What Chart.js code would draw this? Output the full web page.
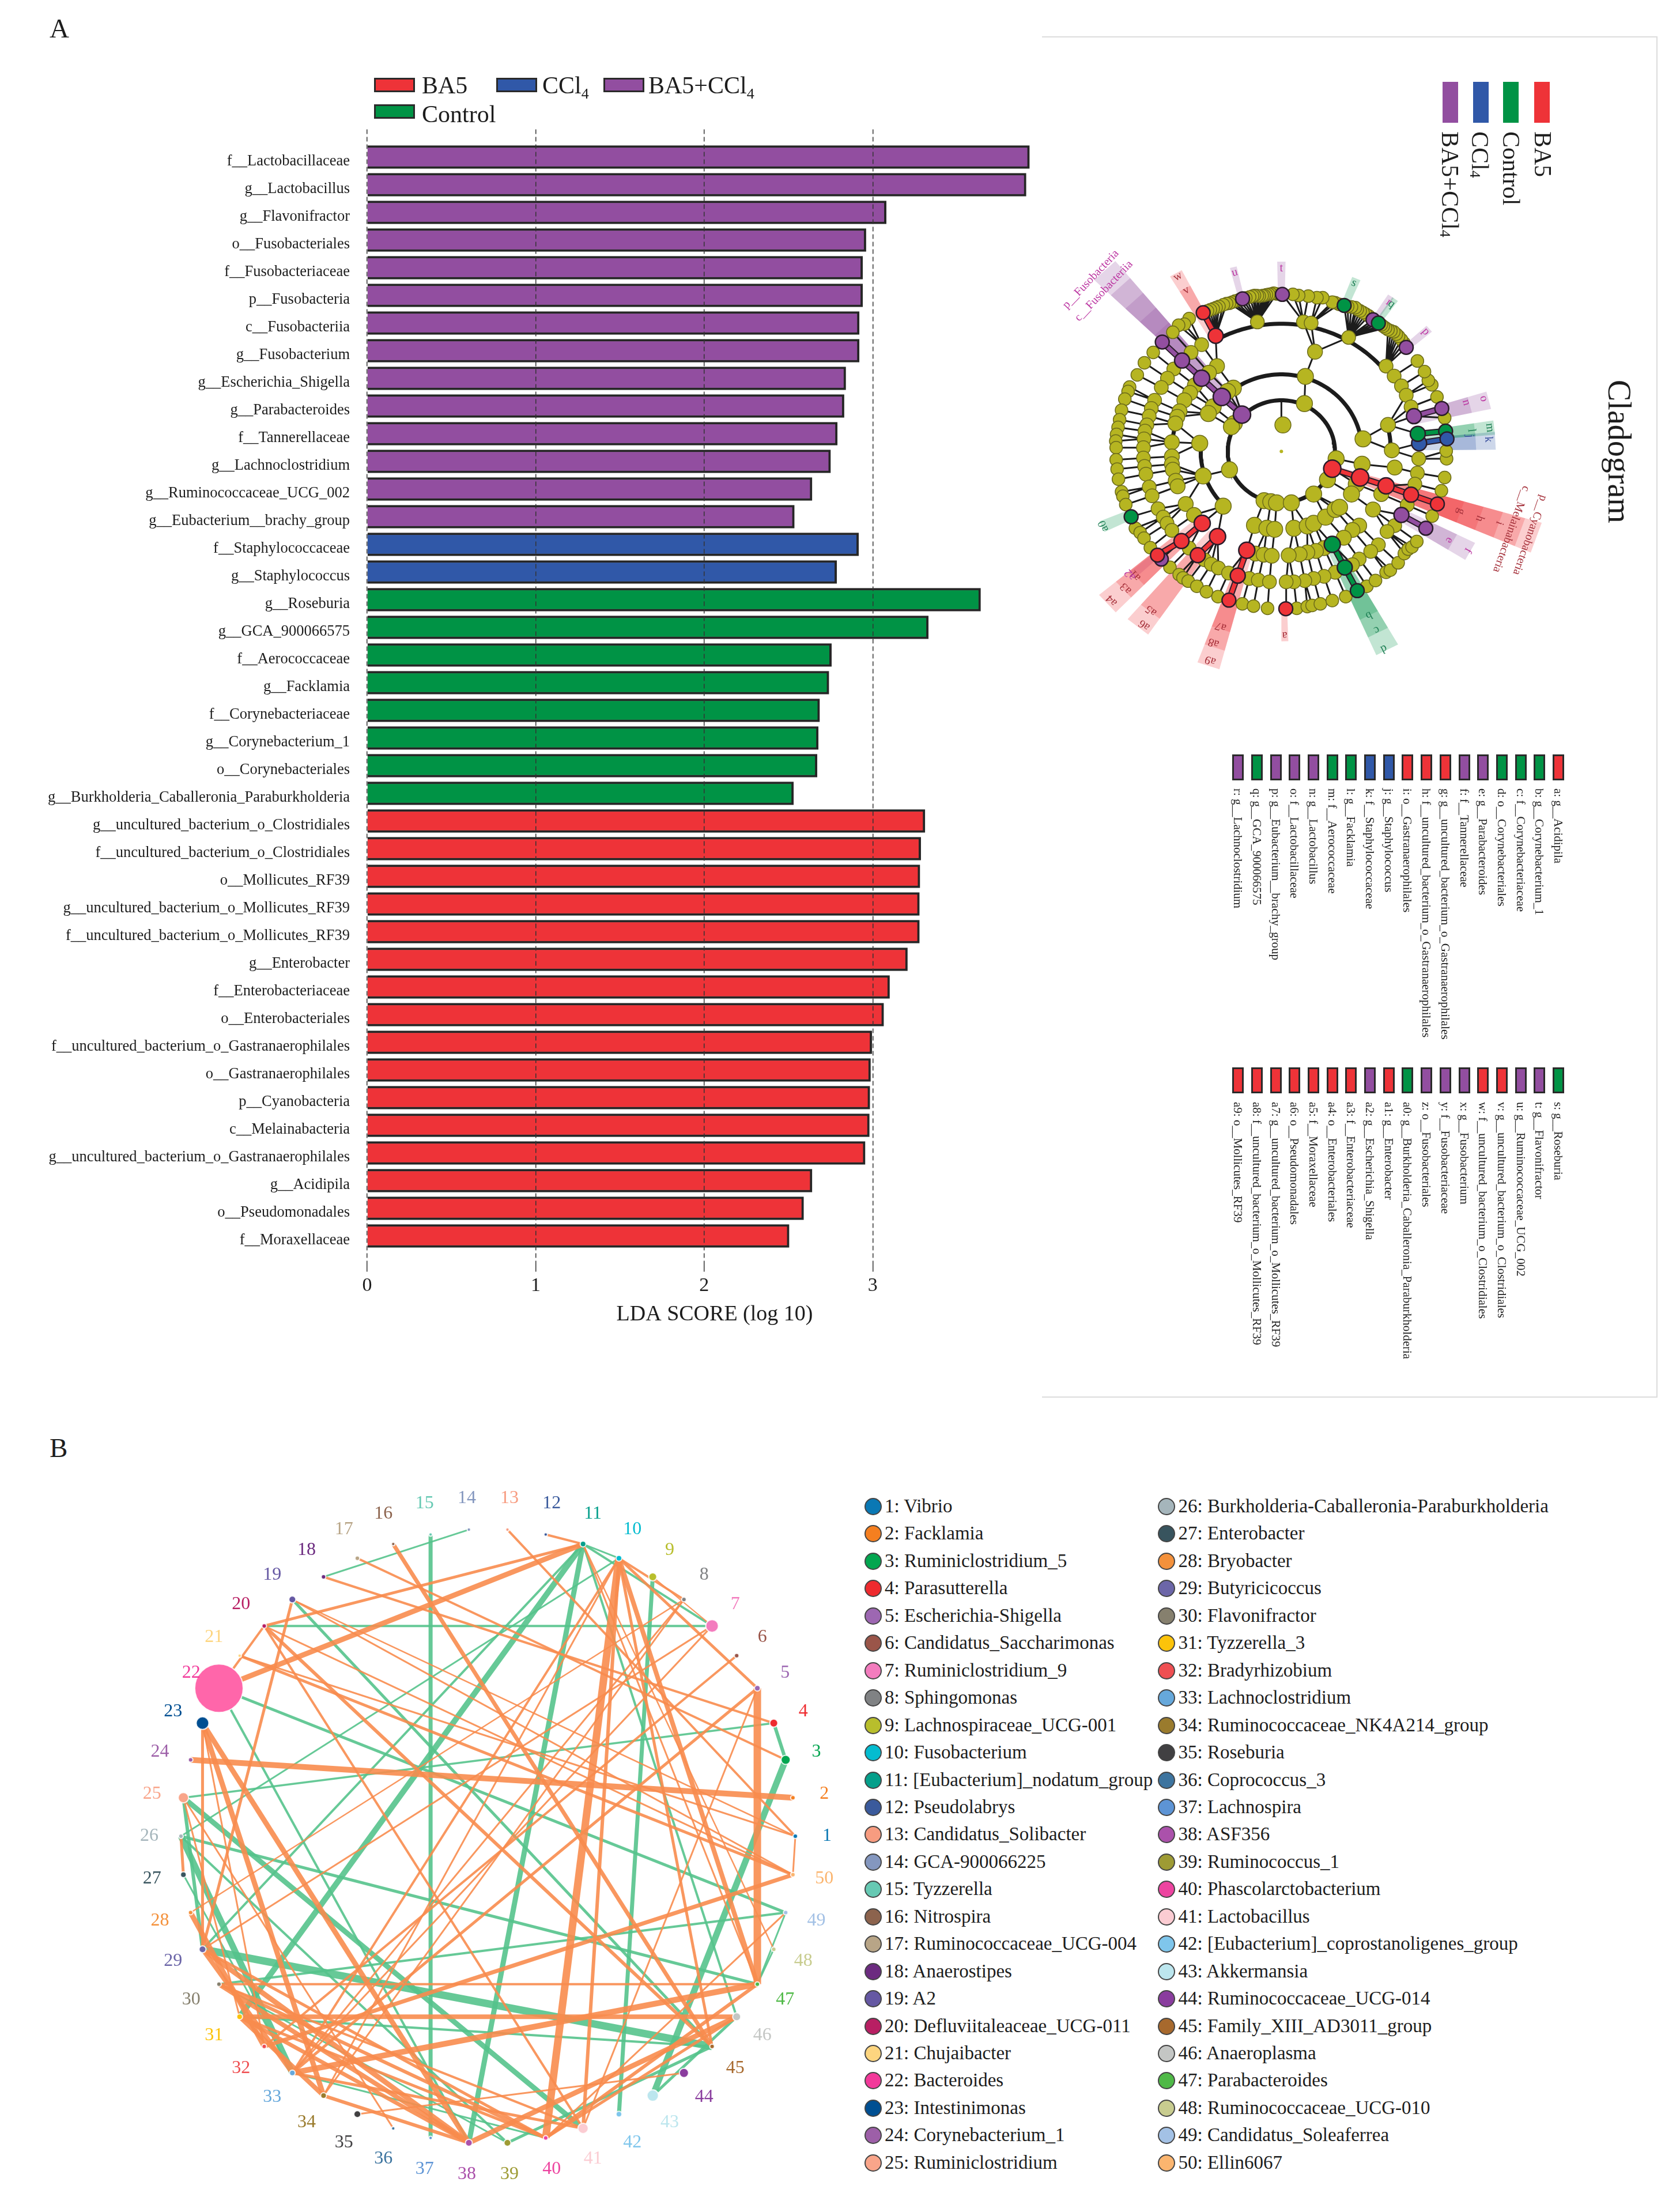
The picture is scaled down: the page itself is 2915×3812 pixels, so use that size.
<!DOCTYPE html>
<html>
<head>
<meta charset="utf-8">
<script src="https://cdn.jsdelivr.net/npm/chart.js@4"></script>
<style>
html, body { margin: 0; padding: 0; background: #fff; }
#page { position: relative; width: 2915px; height: 3812px; overflow: hidden; font-family: "Liberation Serif", serif; color: #1d1d1d; }
#page canvas { position: absolute; }
.txt { position: absolute; white-space: nowrap; line-height: 1; }
.vert { position: absolute; white-space: nowrap; line-height: 1; writing-mode: vertical-rl; }
.box { position: absolute; box-sizing: border-box; border: 3px solid #2a2a2a; }
.dot { position: absolute; box-sizing: border-box; border-radius: 50%; border: 2px solid #444; }
sub { font-size: 62%; line-height: 0; }
</style>
</head>
<body>
<div id="page">
  <canvas id="barChart" width="1843" height="2310" style="left:0;top:0"></canvas>
  <canvas id="cladeChart" width="900" height="800" style="left:1830px;top:430px"></canvas>
  <canvas id="netChart" width="1240" height="1252" style="left:230px;top:2560px"></canvas>
</div>
<script>
// ---- panel A, LDA bars ----
var barLabels = ['f__Lactobacillaceae','g__Lactobacillus','g__Flavonifractor','o__Fusobacteriales','f__Fusobacteriaceae','p__Fusobacteria','c__Fusobacteriia','g__Fusobacterium','g__Escherichia_Shigella','g__Parabacteroides','f__Tannerellaceae','g__Lachnoclostridium','g__Ruminococcaceae_UCG_002','g__Eubacterium__brachy_group','f__Staphylococcaceae','g__Staphylococcus','g__Roseburia','g__GCA_900066575','f__Aerococcaceae','g__Facklamia','f__Corynebacteriaceae','g__Corynebacterium_1','o__Corynebacteriales','g__Burkholderia_Caballeronia_Paraburkholderia','g__uncultured_bacterium_o_Clostridiales','f__uncultured_bacterium_o_Clostridiales','o__Mollicutes_RF39','g__uncultured_bacterium_o_Mollicutes_RF39','f__uncultured_bacterium_o_Mollicutes_RF39','g__Enterobacter','f__Enterobacteriaceae','o__Enterobacteriales','f__uncultured_bacterium_o_Gastranaerophilales','o__Gastranaerophilales','p__Cyanobacteria','c__Melainabacteria','g__uncultured_bacterium_o_Gastranaerophilales','g__Acidipila','o__Pseudomonadales','f__Moraxellaceae'];
var barValues = [3.93,3.91,3.08,2.96,2.94,2.94,2.92,2.92,2.84,2.83,2.79,2.75,2.64,2.535,2.916,2.786,3.64,3.33,2.755,2.74,2.685,2.677,2.67,2.53,3.31,3.285,3.28,3.277,3.277,3.206,3.10,3.065,2.995,2.987,2.983,2.98,2.955,2.64,2.59,2.504];
var barGroups = ['p','p','p','p','p','p','p','p','p','p','p','p','p','p','b','b','g','g','g','g','g','g','g','g','r','r','r','r','r','r','r','r','r','r','r','r','r','r','r','r'];
var xTicksMax = 4.124;

// ---- panel A, cladogram key ----
var keyTopNames = ['a: g__Acidipila','b: g__Corynebacterium_1','c: f__Corynebacteriaceae','d: o__Corynebacteriales','e: g__Parabacteroides','f: f__Tannerellaceae','g: g__uncultured_bacterium_o_Gastranaerophilales','h: f__uncultured_bacterium_o_Gastranaerophilales','i: o__Gastranaerophilales','j: g__Staphylococcus','k: f__Staphylococcaceae','l: g__Facklamia','m: f__Aerococcaceae','n: g__Lactobacillus','o: f__Lactobacillaceae','p: g__Eubacterium__brachy_group','q: g__GCA_900066575','r: g__Lachnoclostridium'];
var keyTopGroups = ['r','g','g','g','p','p','r','r','r','b','b','g','g','p','p','p','g','p'];
var keyBottomNames = ['s: g__Roseburia','t: g__Flavonifractor','u: g__Ruminococcaceae_UCG_002','v: g__uncultured_bacterium_o_Clostridiales','w: f__uncultured_bacterium_o_Clostridiales','x: g__Fusobacterium','y: f__Fusobacteriaceae','z: o__Fusobacteriales','a0: g__Burkholderia_Caballeronia_Paraburkholderia','a1: g__Enterobacter','a2: g__Escherichia_Shigella','a3: f__Enterobacteriaceae','a4: o__Enterobacteriales','a5: f__Moraxellaceae','a6: o__Pseudomonadales','a7: g__uncultured_bacterium_o_Mollicutes_RF39','a8: f__uncultured_bacterium_o_Mollicutes_RF39','a9: o__Mollicutes_RF39'];
var keyBottomGroups = ['g','p','p','r','r','p','p','p','g','r','p','r','r','r','r','r','r','r'];

// ---- panel A, cladogram nodes by taxonomic level, third field = enriched group ----
var cladeLevel2 = [[705,625,'p'],[665,665],[650,680],[640,875],[820,1015],[855,1020],[885,1025],[962,1025],[1030,575],[1078,985],[1150,920],[1195,825],[1175,870,'r']];
var cladeLevel3 = [[660,505],[630,520],[600,545,'p'],[555,590],[530,620],[485,755],[503,903],[607,1040],[770,1127],[835,1140],[875,1145],[1035,452],[1335,735],[1300,940],[1330,850],[1275,985],[975,1140],[1045,1130],[1078,1118],[1140,1090],[1190,1055],[1213,1045],[1320,910,'r']];
var cladeLevel4 = [[575,405],[533,435],[495,460,'p'],[460,492],[435,527],[405,560],[380,610],[368,635],[358,665],[340,750],[340,815],[340,850],[345,875],[360,925],[370,950],[412,1030],[455,1080],[498,1118,'r'],[578,1178,'r'],[730,1240,'r'],[775,1255],[818,1260],[860,1265],[1085,340],[1465,672],[1485,787],[1500,865],[1430,985],[1387,1055],[1315,1128],[1280,1148],[1235,1183],[1132,1230],[1090,1243],[1045,1250],[1005,1258],[948,1263],[1455,948,'r'],[1175,1213,'g']];
var cladeLevel5 = [[495,308],[568,268,'r'],[785,205],[440,343],[393,380,'p'],[350,418],[317,460],[285,502],[250,560],[233,597],[222,632],[210,672],[200,700],[195,735],[192,775],[192,822],[198,860],[205,895],[222,953],[237,993],[268,1052],[295,1090],[315,1118],[340,1150],[390,1198,'r'],[430,1230],[475,1262,'r'],[510,1283],[545,1303],[582,1320],[635,1343],[683,1355,'r'],[743,1368],[790,1375],[848,1383],[1025,205],[1065,210],[1260,275],[1455,405],[1497,450],[1535,495],[1560,537],[1585,590],[1600,632,'p'],[1620,712,'g'],[1627,755,'b'],[1625,825],[1618,890],[1605,940],[1585,988,'r'],[1565,1035],[1535,1080,'p'],[1500,1128],[1460,1155],[1415,1215],[1375,1245],[1315,1280],[1280,1305],[1240,1318,'g'],[1190,1340],[1132,1358],[1078,1368],[1032,1378],[975,1383],[935,1383]];
var cladeLevel6 = [[885,78],[870,75],[857,78],[845,80],[832,82],[820,85],[810,86],[795,88],[785,86],[770,85],[760,88],[745,92],[725,96],[708,100,'p'],[690,105],[670,110],[655,115],[640,120],[625,122],[608,127],[585,135],[570,140],[555,145],[540,150],[525,155],[503,163,'r'],[430,190],[405,215],[375,220],[345,252],[290,296,'p'],[243,343],[197,390],[160,445],[120,500],[112,520],[95,555],[78,605],[68,648],[60,683],[52,715],[48,745],[50,775],[50,830],[55,872],[62,918],[78,975],[85,995],[100,1033],[128,1088,'g'],[150,1140],[175,1160],[195,1185],[228,1228],[265,1262,'r'],[285,1280,'p'],[330,1317],[378,1350],[398,1365],[425,1380],[470,1403],[520,1428],[580,1450],[637,1466,'r'],[707,1483],[765,1493],[838,1503],[933,1505,'r'],[990,1503],[1045,1495],[1070,1490],[1113,1483],[1175,1468],[1245,1450],[1305,1423,'g'],[1355,1403],[1400,1377],[1455,1340],[1477,1330],[1518,1297],[1550,1255],[1570,1235],[1590,1225],[1615,1200],[1662,1140,'p'],[1695,1085],[1722,1030,'r'],[1743,970],[1760,910],[1770,825],[1768,790],[1772,735,'b'],[1765,700,'g'],[1760,640],[1745,597,'p'],[1720,545],[1693,490],[1675,470],[1655,430],[1618,382],[1560,320,'p'],[1548,300],[1535,285],[1520,270],[1508,260],[1495,250],[1480,245],[1465,240],[1452,232],[1440,225],[1430,218],[1415,210,'g'],[1400,203],[1387,195,'p'],[1365,178],[1350,170],[1335,162],[1320,155],[1305,148],[1295,140],[1275,137],[1255,135],[1237,130,'g'],[1210,125],[1190,118],[1175,115],[1125,95],[1095,95],[1050,88],[1000,85],[970,80],[915,80,'p']];
// thick clade arcs: radius, from angle, to angle
var cladeArcs = [[93,0,255],[93,285,360],[140,9,127],[140,172,225],[232,39,120],[190,168,178],[190,0,14]];
// highlighted sectors: angle, half angle, inner radius, outer radius, group
var cladeWedges = [[133,3.2,93,450,'p'],[133,3.2,140,410,'p'],[133,3.2,190,375,'p'],[133,3.2,232,340,'p'],[133,3.2,284,305,'p'],
  [-19.5,3.5,93,470,'r'],[-19.5,3.5,140,440,'r'],[-19.5,3.5,190,400,'r'],[-19.5,3.5,232,365,'r'],[-19.5,3.5,284,330,'r'],
  [-29,2.7,232,375,'p'],[-29,2.7,284,340,'p'],[-63,3,186,405,'g'],[-63,3,232,370,'g'],[-63,3,284,335,'g'],[-89,1,284,345,'r'],
  [-108,2.8,190,410,'r'],[-108,2.8,232,375,'r'],[-108,2.8,284,340,'r'],[232,3.2,190,405,'r'],[232,3.2,232,370,'r'],
  [222.5,3,190,410,'r'],[222.5,3,232,372,'r'],[222.5,3,284,340,'r'],[221,1.2,284,345,'p'],[203.7,1.8,284,340,'g'],
  [90,1.2,284,345,'p'],[104,1,284,345,'p'],[119.5,1.8,232,372,'r'],[119.5,1.8,284,340,'r'],[67.5,1.3,284,340,'g'],
  [54.5,1,284,340,'g'],[56,1,284,340,'p'],[41,1.2,284,340,'p'],[14.5,2.5,232,372,'p'],[14.5,2.5,284,338,'p'],
  [6.7,2,232,372,'g'],[6.7,2,284,338,'g'],[3,2.5,232,372,'b'],[3,2.5,284,338,'b']];
// letters on the sectors: text, angle, radius, group
var cladeLetters = [['t',90,333,'p'],['u',104,335,'p'],['w',119.5,365,'r'],['v',119.4,336,'r'],['s',67.6,331,'g'],['q',54.5,329,'g'],['r',55.5,329,'p'],['p',41,332,'p'],['o',15.3,364,'p'],['n',15.5,333,'p'],['m',6.8,364,'g'],['l',6.6,332,'g'],['k',3.5,360,'b'],['j',4.9,328,'b'],['g',-19.3,330,'r'],['h',-19.5,365,'r'],['i',-19,400,'r'],['e',-29,333,'p'],['f',-29,370,'p'],['b',-63,334,'g'],['c',-63,364,'g'],['d',-63.6,400,'g'],['a',-89,334,'r'],['a9',-108,399,'r'],['a8',-108.7,367,'r'],['a7',-108.3,335,'r'],['a6',233,395,'r'],['a5',232,367,'r'],['a4',222.6,400,'r'],['a3',222.7,367,'r'],['a1',221.6,339,'r'],['a2',220.5,345,'p'],['a0',203.7,337,'g'],
  ['p__Fusobacteria',136.6,455,'p'],['c__Fusobacteriia',136.6,424,'p'],['p__Cyanobacteria',-19.4,457,'r'],['c__Melainabacteria',-19.5,423,'r']];

// ---- panel B ----
var genusNames = ['Vibrio','Facklamia','Ruminiclostridium_5','Parasutterella','Escherichia-Shigella','Candidatus_Saccharimonas','Ruminiclostridium_9','Sphingomonas','Lachnospiraceae_UCG-001','Fusobacterium','[Eubacterium]_nodatum_group','Pseudolabrys','Candidatus_Solibacter','GCA-900066225','Tyzzerella','Nitrospira','Ruminococcaceae_UCG-004','Anaerostipes','A2','Defluviitaleaceae_UCG-011','Chujaibacter','Bacteroides','Intestinimonas','Corynebacterium_1','Ruminiclostridium','Burkholderia-Caballeronia-Paraburkholderia','Enterobacter','Bryobacter','Butyricicoccus','Flavonifractor','Tyzzerella_3','Bradyrhizobium','Lachnoclostridium','Ruminococcaceae_NK4A214_group','Roseburia','Coprococcus_3','Lachnospira','ASF356','Ruminococcus_1','Phascolarctobacterium','Lactobacillus','[Eubacterium]_coprostanoligenes_group','Akkermansia','Ruminococcaceae_UCG-014','Family_XIII_AD3011_group','Anaeroplasma','Parabacteroides','Ruminococcaceae_UCG-010','Candidatus_Soleaferrea','Ellin6067'];
var genusColors = ['#0A78B4','#F57F20','#03A650','#EE2B2F','#9D67B2','#9A5549','#F37CBE','#808284','#B8BE2C','#04BCD0','#059F8B','#3A5A9C','#F79C80','#8497BF','#66C9B3','#8C634D','#B8A587','#6C2B80','#6558A3','#B81F63','#FDD57F','#F2399A','#004F92','#9D5FA8','#F9A58A','#A5B5BB','#38545E','#F4913B','#6C66A8','#86806E','#FCC30A','#EF4F52','#66A8DB','#9A7B2D','#414042','#3D749F','#5D94D5','#AB51AB','#9E9B34','#ED44A0','#FBCCD2','#7FC6EC','#BCE6EE','#8A3D9E','#A7692D','#C4C6C4','#4FB947','#C8CC8F','#A3C1E5','#FBB56F'];
var genusSizes = [4,4,8,7,5,4,11,4,7,5,5,3,3,3,3,3,4,4,6,4,3,42,11,4,9,4,5,4,6,4,5,4,5,5,6,3,3,6,6,4,9,5,10,8,4,7,4,4,4,4];
// genus a, genus b, strength
var orangeEdges = [[2,24,10],[22,11,9],[20,11,5],[12,11,4],[10,40,13],[10,41,6],[10,47,8],[10,45,5],[10,5,5],[10,8,4],[9,7,2],[11,47,3],[11,48,2.5],[13,1,4],[16,45,7],[5,47,13],[5,33,5],[5,41,3],[17,3,4],[18,4,4],[19,50,3],[19,29,5],[19,1,2.5],[1,50,3],[7,29,3],[8,28,2.5],[6,32,4],[20,22,4],[21,50,5],[21,1,3],[20,41,4],[20,45,6],[23,38,9],[23,34,9],[23,29,5],[23,32,3],[25,31,3],[26,27,5],[28,32,9],[29,38,9],[29,33,8],[29,40,5],[30,47,4],[30,38,8],[30,40,6],[31,46,8],[31,34,8],[31,38,7],[31,40,5],[33,47,10],[32,50,7],[34,38,6],[34,8,3],[35,44,3],[36,25,3],[38,46,9],[40,47,6],[40,46,5],[41,33,5],[41,30,4],[49,40,3],[10,33,4],[10,34,3],[8,33,3],[20,50,3],[7,33,3]];
var greenEdges = [[14,18,3],[15,37,7],[7,20,4],[11,10,3],[11,7,4],[11,46,4],[11,38,9],[11,31,10],[11,29,4],[10,26,3],[9,42,7],[3,43,11],[3,4,6],[4,25,3.5],[19,45,5],[22,49,5],[22,38,4],[26,47,5],[25,41,9],[25,29,6],[26,33,11],[26,39,4],[27,33,3],[29,45,13],[30,49,4],[30,39,3],[31,45,4],[39,45,5],[33,40,3],[43,46,5],[47,48,3],[47,49,3]];

var groupColors = { r: '#EE3338', b: '#3058A8', g: '#009345', p: '#924EA0' };
var letterColors = { r: '#A5303A', b: '#3A4F9E', g: '#1E7F55', p: '#BC37A2' };

Chart.defaults.font.family = '"Liberation Serif", serif';
Chart.defaults.animation = false;
Chart.defaults.devicePixelRatio = 1;

var page = document.getElementById('page');

function addText(html, left, top, size, cls, color) {
    var el = document.createElement('div');
    el.className = cls || 'txt';
    el.innerHTML = html;
    el.style.left = left + 'px';
    el.style.top = top + 'px';
    el.style.fontSize = size + 'px';
    if (color) el.style.color = color;
    page.appendChild(el);
    return el;
}

function addBox(left, top, w, h, color) {
    var el = document.createElement('div');
    el.className = 'box';
    el.style.cssText = 'left:' + left + 'px;top:' + top + 'px;width:' + w + 'px;height:' + h + 'px;background:' + color;
    page.appendChild(el);
}

// panel letters and the cladogram frame
addText('A', 86, 26, 47);
addText('B', 86, 2489, 47);
var frame = document.createElement('div');
frame.style.cssText = 'position:absolute;left:1808px;top:63px;width:1068px;height:2362px;box-sizing:border-box;border:2px solid #dcdcdc;border-left:none';
page.appendChild(frame);

// bar legend
addBox(649, 135, 71, 25, groupColors.r);
addText('BA5', 732, 127, 42);
addBox(861, 135, 71, 25, groupColors.b);
addText('CCl<sub>4</sub>', 941, 127, 42);
addBox(1047, 135, 71, 25, groupColors.p);
addText('BA5+CCl<sub>4</sub>', 1125, 127, 42);
addBox(649, 181, 71, 25, groupColors.g);
addText('Control', 732, 177, 42);

// rotated cladogram legend and title
var cladeLegend = [['BA5', 'r', 2662, 2656], ['Control', 'g', 2608, 2601], ['CCl<sub>4</sub>', 'b', 2556, 2547], ['BA5+CCl<sub>4</sub>', 'p', 2503, 2495]];
cladeLegend.forEach(function (row) {
    var bar = document.createElement('div');
    bar.style.cssText = 'position:absolute;left:' + row[2] + 'px;top:142px;width:27px;height:71px;background:' + groupColors[row[1]];
    page.appendChild(bar);
    addText(row[0], row[3], 228, 42, 'vert');
});
addText('Cladogram', 2782, 659, 56, 'vert');

// cladogram key columns, right to left
function addKey(names, groups, boxTop, textTop) {
    names.forEach(function (name, i) {
        var cx = 2704 - i * 32.7;
        addBox(cx - 10, boxTop, 20, 45, groupColors[groups[i]]);
        addText(name, cx - 11, textTop, 21, 'vert');
    });
}
addKey(keyTopNames, keyTopGroups, 1309, 1368);
addKey(keyBottomNames, keyBottomGroups, 1852, 1912);

// genus key, two columns of 25
genusNames.forEach(function (name, i) {
    var col = i < 25 ? 0 : 1;
    var row = i % 25;
    var y = 2614 + row * 47.45;
    var d = document.createElement('div');
    d.className = 'dot';
    d.style.cssText = 'left:' + ((col ? 2024 : 1515) - 15) + 'px;top:' + (y - 15) + 'px;width:30px;height:30px;background:' + genusColors[i];
    page.appendChild(d);
    addText((i + 1) + ': ' + name, col ? 2044.5 : 1535, y - 17, 33);
});

// ---- bar chart ----
new Chart(document.getElementById('barChart'), {
    type: 'bar',
    data: {
        labels: [''].concat(barLabels, ['']),
        datasets: [{
            data: [null].concat(barValues, [null]),
            backgroundColor: [null].concat(barGroups.map(function (g) { return groupColors[g]; }), [null]),
            borderColor: '#262626',
            borderWidth: 4,
            barThickness: 40
        }]
    },
    options: {
        indexAxis: 'y',
        responsive: false,
        layout: { padding: { top: 224.5 } },
        plugins: { legend: { display: false }, tooltip: { enabled: false } },
        scales: {
            x: {
                min: 0,
                max: xTicksMax,
                afterFit: function (scale) { scale.height = 117.5; },
                afterBuildTicks: function (scale) { scale.ticks = scale.ticks.filter(function (t) { return t.value <= 3; }); },
                ticks: { stepSize: 1, includeBounds: false, maxRotation: 0, color: '#1d1d1d', padding: 4, font: { size: 34 } },
                grid: { z: 1, color: '#333', lineWidth: 1.5, tickLength: 14, tickColor: '#333', tickBorderDash: [], drawTicks: true },
                border: { display: false, dash: [8, 5] },
                title: { display: true, text: 'LDA SCORE (log 10)', color: '#1d1d1d', font: { size: 38 }, padding: { top: 4, bottom: 6 } }
            },
            y: {
                offset: false,
                afterFit: function (scale) { scale.width = 637; },
                ticks: { autoSkip: false, color: '#1d1d1d', padding: 22, labelOffset: 8, font: { size: 26.5 } },
                grid: { display: false },
                border: { display: false }
            }
        }
    }
});

// ---- cladogram ----
var cladeCx = 910, cladeCy = 792, cladeSx = 3, cladeSy = 2.495;

function polar(r, deg) {
    var a = deg * Math.PI / 180;
    return { x: cladeCx + cladeSx * r * Math.cos(a), y: cladeCy - cladeSy * r * Math.sin(a) };
}

function nodeAngle(n) {
    return Math.atan2((cladeCy - n[1]) / cladeSy, (n[0] - cladeCx) / cladeSx) * 180 / Math.PI;
}

function angleGap(a, b) {
    var d = Math.abs(a - b) % 360;
    return d > 180 ? 360 - d : d;
}

// each node hangs on the nearest node of the level inside it
function nearestIn(node, level, maxGap, group) {
    var best = null, bestGap = maxGap, a = nodeAngle(node);
    level.forEach(function (p) {
        if (group && p[2] !== group) return;
        var g = angleGap(a, nodeAngle(p));
        if (g < bestGap) { bestGap = g; best = p; }
    });
    return best;
}

var cladeLevels = [cladeLevel2, cladeLevel3, cladeLevel4, cladeLevel5, cladeLevel6];
var levelRadius = [14, 14, 13, 12, 11];
var cladeSets = [];

cladeWedges.forEach(function (w) {
    var pts = [polar(w[2], w[0] - w[1]), polar(w[3], w[0] - w[1]), polar(w[3], w[0] + w[1]), polar(w[2], w[0] + w[1]), polar(w[2], w[0] - w[1])];
    var c = Chart.helpers.color(groupColors[w[4]]).alpha(0.24).rgbString();
    cladeSets.push({ data: pts, showLine: true, fill: 'shape', backgroundColor: c, borderWidth: 0, pointRadius: 0, order: 50 });
});

var thinLinks = [], thickLinks = [];
cladeLevels.forEach(function (level, i) {
    if (i === 0) return;
    level.forEach(function (n) {
        var p = nearestIn(n, cladeLevels[i - 1], 12);
        if (p) thinLinks.push({ x: n[0], y: n[1] }, { x: p[0], y: p[1] }, { x: null, y: null });
        if (n[2]) {
            var q = nearestIn(n, cladeLevels[i - 1], 7, n[2]);
            if (q) thickLinks.push([n, q, n[2]]);
        }
    });
});
thinLinks.push({ x: cladeCx, y: 672 }, { x: cladeCx, y: polar(93, 90).y });
cladeSets.push({ data: thinLinks, showLine: true, spanGaps: false, borderColor: '#1c1c1c', borderWidth: 3, pointRadius: 0, order: 40 });

cladeArcs.forEach(function (arc) {
    var pts = [];
    for (var a = arc[1]; a <= arc[2]; a += 2) pts.push(polar(arc[0], a));
    cladeSets.push({ data: pts, showLine: true, borderColor: '#1c1c1c', borderWidth: 7, pointRadius: 0, order: 39 });
});

thickLinks.forEach(function (l) {
    var pts = [{ x: l[0][0], y: l[0][1] }, { x: l[1][0], y: l[1][1] }];
    cladeSets.push({ data: pts, showLine: true, borderColor: '#2a1c2a', borderWidth: 11, pointRadius: 0, order: 30 });
    cladeSets.push({ data: pts, showLine: true, borderColor: groupColors[l[2]], borderWidth: 7, pointRadius: 0, order: 29 });
});

cladeLevels.forEach(function (level, i) {
    var plain = level.filter(function (n) { return !n[2]; }).map(function (n) { return { x: n[0], y: n[1] }; });
    cladeSets.push({ data: plain, pointRadius: levelRadius[i], pointBackgroundColor: '#B6B521', pointBorderColor: '#6d6c1a', pointBorderWidth: 1.5, order: 20 - i });
    level.filter(function (n) { return n[2]; }).forEach(function (n) {
        cladeSets.push({ data: [{ x: n[0], y: n[1] }], pointRadius: levelRadius[i] + 1, pointBackgroundColor: groupColors[n[2]], pointBorderColor: '#2a1c2a', pointBorderWidth: 2.5, order: 5 });
    });
});
cladeSets.push({ data: [{ x: 918, y: 672 }], pointRadius: 14, pointBackgroundColor: '#B6B521', pointBorderColor: '#6d6c1a', pointBorderWidth: 1.5, order: 19 });
cladeSets.push({ data: [{ x: cladeCx, y: cladeCy }], pointRadius: 3, pointBackgroundColor: '#B6B521', pointBorderWidth: 0, order: 19 });

var cladeTextPlugin = {
    id: 'cladeText',
    afterDatasetsDraw: function (chart) {
        var ctx = chart.ctx;
        ctx.save();
        ctx.textAlign = 'center';
        ctx.textBaseline = 'middle';
        ctx.font = '20px "Liberation Serif", serif';
        cladeLetters.forEach(function (l) {
            var p = polar(l[2], l[1]);
            ctx.save();
            ctx.translate(chart.scales.x.getPixelForValue(p.x), chart.scales.y.getPixelForValue(p.y));
            ctx.rotate((90 - l[1]) * Math.PI / 180);
            ctx.fillStyle = letterColors[l[3]];
            ctx.fillText(l[0], 0, 0);
            ctx.restore();
        });
        ctx.restore();
    }
};

new Chart(document.getElementById('cladeChart'), {
    type: 'scatter',
    data: { datasets: cladeSets },
    plugins: [cladeTextPlugin],
    options: {
        responsive: false,
        layout: { padding: 0, autoPadding: false },
        plugins: { legend: { display: false }, tooltip: { enabled: false } },
        scales: {
            x: { display: false, min: -270, max: 2430 },
            y: { display: false, reverse: true, min: -131, max: 1959 }
        }
    }
});

// ---- network ----
var netRadius = 533, netLabelRadius = 588;

function netPoint(k, r) {
    var a = (k - 1) * 7.2 * Math.PI / 180;
    return { x: r * Math.cos(a), y: r * Math.sin(a) };
}

var netSets = [];
function addEdges(list, color) {
    list.forEach(function (e) {
        netSets.push({
            data: [netPoint(e[0], netRadius), netPoint(e[1], netRadius)],
            showLine: true,
            borderColor: color,
            borderWidth: e[2],
            pointRadius: 0,
            clip: false,
            order: 10
        });
    });
}
addEdges(orangeEdges, 'rgba(248,140,78,0.9)');
addEdges(greenEdges, 'rgba(85,195,140,0.9)');
netSets.push({
    data: genusNames.map(function (n, i) { return netPoint(i + 1, netRadius); }),
    pointRadius: genusSizes,
    pointBackgroundColor: genusColors.map(function (c, i) { return genusSizes[i] > 30 ? '#FF66AA' : c; }),
    pointBorderColor: 'rgba(255,255,255,0.85)',
    pointBorderWidth: 2,
    clip: false,
    order: 1
});

var netLabelPlugin = {
    id: 'netLabels',
    afterDatasetsDraw: function (chart) {
        var ctx = chart.ctx;
        ctx.save();
        ctx.textAlign = 'center';
        ctx.textBaseline = 'middle';
        ctx.font = '32px "Liberation Serif", serif';
        genusNames.forEach(function (n, i) {
            var p = netPoint(i + 1, netLabelRadius);
            ctx.fillStyle = genusColors[i];
            ctx.fillText(String(i + 1), chart.scales.x.getPixelForValue(p.x), chart.scales.y.getPixelForValue(p.y));
        });
        ctx.restore();
    }
};

new Chart(document.getElementById('netChart'), {
    type: 'scatter',
    data: { datasets: netSets },
    plugins: [netLabelPlugin],
    options: {
        responsive: false,
        layout: { padding: 0, autoPadding: false },
        plugins: { legend: { display: false }, tooltip: { enabled: false } },
        scales: {
            x: { display: false, min: -617, max: 623 },
            y: { display: false, min: -626, max: 626 }
        }
    }
});
</script>
</body>
</html>
